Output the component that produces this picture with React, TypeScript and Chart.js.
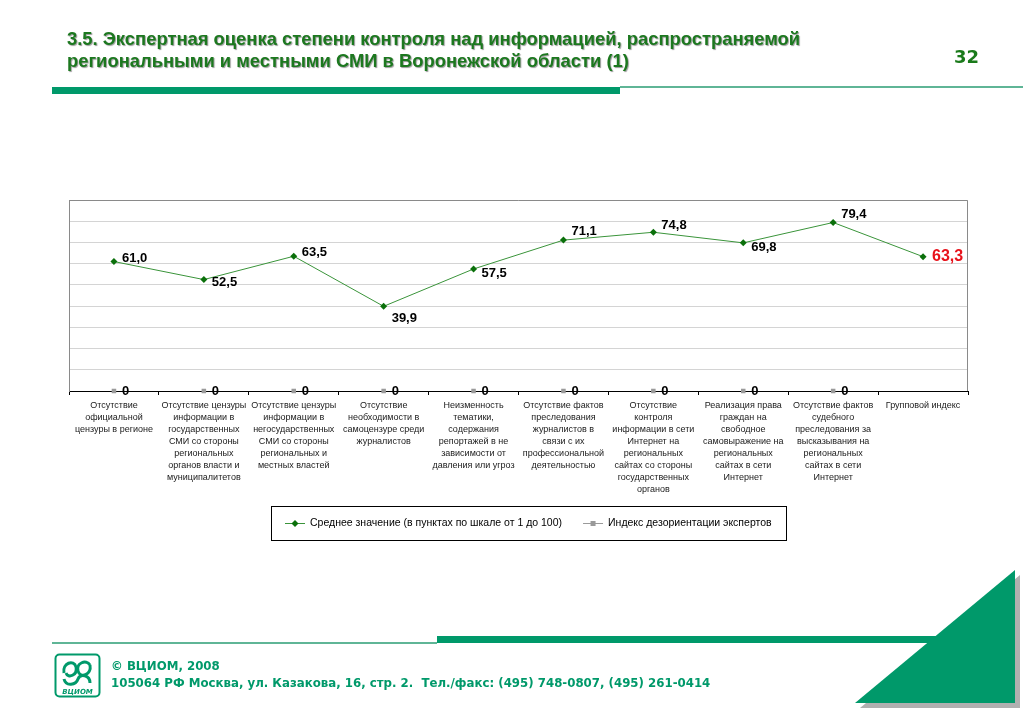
import React, { useEffect, useRef } from "react";
import { Chart, registerables } from "chart.js";

Chart.register(...registerables);

const categories: string[][] = [
  ["Отсутствие", "официальной", "цензуры в регионе"],
  ["Отсутствие цензуры", "информации в", "государственных", "СМИ со стороны", "региональных", "органов власти и", "муниципалитетов"],
  ["Отсутствие цензуры", "информации в", "негосударственных", "СМИ со стороны", "региональных и", "местных властей"],
  ["Отсутствие", "необходимости в", "самоцензуре среди", "журналистов"],
  ["Неизменность", "тематики,", "содержания", "репортажей в не", "зависимости от", "давления или угроз"],
  ["Отсутствие фактов", "преследования", "журналистов в", "связи с их", "профессиональной", "деятельностью"],
  ["Отсутствие", "контроля", "информации в сети", "Интернет на", "региональных", "сайтах со стороны", "государственных", "органов"],
  ["Реализация права", "граждан на", "свободное", "самовыражение на", "региональных", "сайтах в сети", "Интернет"],
  ["Отсутствие фактов", "судебного", "преследования за", "высказывания на", "региональных", "сайтах в сети", "Интернет"],
  ["Групповой индекс"],
];

const meanValues: number[] = [61.0, 52.5, 63.5, 39.9, 57.5, 71.1, 74.8, 69.8, 79.4, 63.3];
const disorientValues: (number | null)[] = [0, 0, 0, 0, 0, 0, 0, 0, 0, null];

const seriesNames = [
  "Среднее значение (в пунктах по шкале от 1 до 100)",
  "Индекс дезориентации экспертов",
];

// vertical shift of each value label relative to its point (style only)
const meanLabelShift = [-3, 3, -4, 12, 4, -9, -7, 5, -8, 0];

const GREEN_LINE = "#3a943a";
const GREEN_MARK = "#0b700b";
const GRAY = "#9a9a9a";
const BRAND = "#00996a";
const FONT = "'Liberation Sans', Arial, sans-serif";

const fmt = (v: number) => v.toFixed(1).replace(".", ",");

const chartPlugin = {
  id: "customDecor",
  beforeDatasetsDraw(chart: any) {
    const { ctx, chartArea: a } = chart;
    ctx.save();
    ctx.strokeStyle = "#8a8a8a";
    ctx.lineWidth = 1;
    ctx.beginPath();
    ctx.moveTo(a.left + 0.5, a.bottom);
    ctx.lineTo(a.left + 0.5, a.top + 0.5);
    ctx.lineTo(a.right - 0.5, a.top + 0.5);
    ctx.lineTo(a.right - 0.5, a.bottom);
    ctx.stroke();
    ctx.restore();
  },
  afterDatasetsDraw(chart: any) {
    const { ctx } = chart;
    ctx.save();
    ctx.textBaseline = "middle";
    ctx.textAlign = "left";
    const m0 = chart.getDatasetMeta(0);
    m0.data.forEach((pt: any, i: number) => {
      const v = meanValues[i];
      const last = i === meanValues.length - 1;
      ctx.font = last ? `bold 16px ${FONT}` : `bold 13px ${FONT}`;
      ctx.fillStyle = last ? "#e8121b" : "#000";
      ctx.fillText(fmt(v), pt.x + (last ? 9 : 8), pt.y + meanLabelShift[i]);
    });
    const m1 = chart.getDatasetMeta(1);
    m1.data.forEach((pt: any, i: number) => {
      const v = disorientValues[i];
      if (v === null || v === undefined) return;
      ctx.font = `bold 13px ${FONT}`;
      ctx.fillStyle = "#000";
      ctx.fillText(String(v), pt.x + 8, pt.y);
    });
    ctx.restore();
  },
  afterDraw(chart: any) {
    const { ctx } = chart;
    ctx.save();
    ctx.font = `10.5px ${FONT}`;
    const lineW = 20;
    const gap = 5;
    const itemGap = 21;
    const padX = 14;
    const w1 = ctx.measureText(seriesNames[0]).width;
    const w2 = ctx.measureText(seriesNames[1]).width;
    const inner = lineW + gap + w1 + itemGap + lineW + gap + w2;
    const boxW = inner + padX * 2;
    const boxH = 34;
    const cx = 528;
    const top = 506;
    const left = Math.round(cx - boxW / 2);
    ctx.strokeStyle = "#000";
    ctx.lineWidth = 1;
    ctx.strokeRect(left + 0.5, top + 0.5, Math.round(boxW), boxH);
    const cy = top + boxH / 2 + 0.5;
    let x = left + padX;
    // item 1
    ctx.strokeStyle = GREEN_LINE;
    ctx.beginPath();
    ctx.moveTo(x, cy);
    ctx.lineTo(x + lineW, cy);
    ctx.stroke();
    ctx.fillStyle = GREEN_MARK;
    ctx.beginPath();
    const mx = x + lineW / 2;
    ctx.moveTo(mx, cy - 3.5);
    ctx.lineTo(mx + 3.5, cy);
    ctx.lineTo(mx, cy + 3.5);
    ctx.lineTo(mx - 3.5, cy);
    ctx.closePath();
    ctx.fill();
    ctx.fillStyle = "#000";
    ctx.textBaseline = "middle";
    ctx.fillText(seriesNames[0], x + lineW + gap, cy);
    x += lineW + gap + w1 + itemGap;
    // item 2
    ctx.strokeStyle = GRAY;
    ctx.beginPath();
    ctx.moveTo(x, cy);
    ctx.lineTo(x + lineW, cy);
    ctx.stroke();
    ctx.fillStyle = GRAY;
    ctx.fillRect(x + lineW / 2 - 2.5, cy - 2.5, 5, 5);
    ctx.fillStyle = "#000";
    ctx.fillText(seriesNames[1], x + lineW + gap, cy);
    ctx.restore();
  },
};

function ChartCanvas() {
  const ref = useRef<HTMLCanvasElement | null>(null);
  useEffect(() => {
    if (!ref.current) return;
    Chart.defaults.font.family = FONT;
    const chart = new Chart(ref.current, {
      type: "line",
      data: {
        labels: categories,
        datasets: [
          {
            label: seriesNames[0],
            data: meanValues,
            borderColor: GREEN_LINE,
            borderWidth: 1,
            backgroundColor: GREEN_MARK,
            pointBackgroundColor: GREEN_MARK,
            pointBorderColor: GREEN_MARK,
            pointStyle: "rectRot",
            pointRadius: 3.5,
            pointBorderWidth: 0,
            tension: 0,
            clip: false,
          },
          {
            label: seriesNames[1],
            data: disorientValues,
            borderColor: GRAY,
            backgroundColor: GRAY,
            pointBackgroundColor: GRAY,
            pointBorderColor: GRAY,
            pointStyle: "rect",
            pointRadius: 3.2,
            pointBorderWidth: 0,
            showLine: false,
            clip: false,
          },
        ],
      },
      options: {
        responsive: false,
        animation: false,
        events: [],
        layout: { padding: { left: 69, right: 55, top: 200, bottom: 197 } },
        plugins: {
          legend: { display: false },
          tooltip: { enabled: false },
        },
        scales: {
          x: {
            offset: true,
            grid: {
              offset: true,
              drawOnChartArea: false,
              drawTicks: true,
              tickLength: 4,
              color: "#000",
            },
            border: { color: "#000", width: 1 },
            ticks: {
              autoSkip: false,
              maxRotation: 0,
              minRotation: 0,
              padding: 5,
              color: "#1a1a1a",
              font: { size: 9, lineHeight: 1.333, family: FONT },
            },
            afterFit: (s: any) => {
              s.height = 120;
            },
          },
          y: {
            min: 0,
            max: 90,
            ticks: { display: false, stepSize: 10 },
            grid: { color: "#d4d4d4", drawTicks: false },
            border: { color: "#8a8a8a" },
          },
        },
      },
      plugins: [chartPlugin],
    } as any);
    return () => chart.destroy();
  }, []);
  return (
    <canvas
      ref={ref}
      width={1023}
      height={708}
      style={{ position: "absolute", left: 0, top: 0, width: 1023, height: 708 }}
    />
  );
}

function Logo() {
  return (
    <svg width={48} height={46} style={{ position: "absolute", left: 54, top: 653 }} viewBox="0 0 48 46">
      <rect x={1.5} y={1.5} width={44} height={42} rx={4} fill="none" stroke={BRAND} strokeWidth={2} />
      <path d="M10 20 C8 10, 20 6, 22 14 C24 22, 14 26, 12 20" fill="none" stroke={BRAND} strokeWidth={3} />
      <path d="M36 12 C38 22, 26 26, 24 18 C22 10, 32 6, 36 12" fill="none" stroke={BRAND} strokeWidth={3} />
      <path d="M10 26 C12 34, 22 32, 24 26 C26 20, 36 22, 36 30" fill="none" stroke={BRAND} strokeWidth={3} />
      <text x={23.5} y={41} textAnchor="middle" fontSize={7} fontWeight="bold" fill={BRAND} fontFamily="'DejaVu Sans', sans-serif" fontStyle="italic">
        ВЦИОМ
      </text>
    </svg>
  );
}

export default function App() {
  return (
    <div style={{ position: "fixed", left: 0, top: 0, width: 1023, height: 708, background: "#fff", overflow: "hidden" }}>
      <ChartCanvas />
      <div
        style={{
          position: "absolute",
          left: 67,
          top: 28,
          fontFamily: FONT,
          fontWeight: "bold",
          fontSize: 18.4,
          lineHeight: "22px",
          color: "#1c781f",
          textShadow: "1px 1px 1px #9a9a9a",
          whiteSpace: "nowrap",
        }}
      >
        3.5. Экспертная оценка степени контроля над информацией, распространяемой
        <br />
        региональными и местными СМИ в Воронежской области (1)
      </div>
      <div
        style={{
          position: "absolute",
          left: 954,
          top: 46,
          fontFamily: "'DejaVu Sans', sans-serif",
          fontWeight: "bold",
          fontSize: 18,
          lineHeight: "22px",
          color: "#1a7a1a",
        }}
      >
        32
      </div>
      <div style={{ position: "absolute", left: 52, top: 87, width: 568, height: 7, background: BRAND }} />
      <div style={{ position: "absolute", left: 620, top: 86, width: 403, height: 1.5, background: "#5fb596" }} />
      <div style={{ position: "absolute", left: 52, top: 642, width: 385, height: 1.5, background: "#5fb596" }} />
      <div style={{ position: "absolute", left: 437, top: 636, width: 540, height: 7, background: BRAND }} />
      <svg width={1023} height={708} style={{ position: "absolute", left: 0, top: 0 }}>
        <polygon points="1020,575 1020,708 860,708" fill="#b0b0b0" />
        <polygon points="1015,570 1015,703 855,703" fill={BRAND} />
      </svg>
      <Logo />
      <div
        style={{
          position: "absolute",
          left: 111,
          top: 657,
          fontFamily: "'DejaVu Sans', sans-serif",
          fontStretch: "condensed",
          fontWeight: "bold",
          fontSize: 13.1,
          lineHeight: "17px",
          color: BRAND,
          whiteSpace: "nowrap",
        }}
      >
        © ВЦИОМ, 2008
        <br />
        105064 РФ Москва, ул. Казакова, 16, стр. 2.&nbsp; Тел./факс: (495) 748-0807, (495) 261-0414
      </div>
    </div>
  );
}
